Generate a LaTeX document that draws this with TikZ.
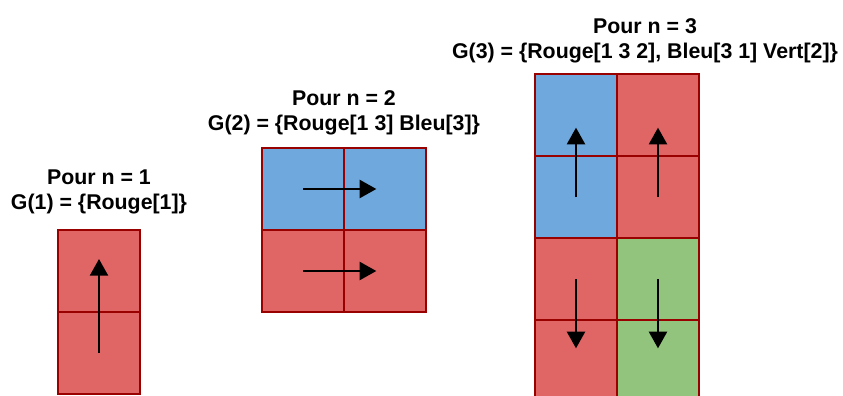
\documentclass[tikz,border=0pt]{standalone}
\usepackage{amsmath,amssymb,xcolor,tikz}
\usepackage{fontspec}
\setmainfont{Liberation Sans}
\usetikzlibrary{arrows.meta}

\definecolor{rouge}{RGB}{224,102,102}
\definecolor{bleu}{RGB}{111,168,220}
\definecolor{vert}{RGB}{147,196,125}
\definecolor{bord}{RGB}{153,0,0}

\tikzset{
  cell/.style={draw=bord, line width=1.5pt, minimum width=61.5pt, minimum height=61.5pt, inner sep=0pt, outer sep=0pt},
  fleche/.style={line width=1.7pt, -{Triangle[length=12.5pt,width=13.5pt]}},
  titre/.style={align=center, inner sep=0.75pt, font=\fontsize{16}{18.75}\selectfont\bfseries}
}

\begin{document}
\begin{tikzpicture}[x=0.75pt,y=0.75pt,yscale=-1,xscale=1]

\useasboundingbox (0,0) rectangle (843,396);

% n = 1
\node [titre] (lbl1) at (99,191.5) {Pour n = 1\\G(1) = \{Rouge[1]\}};
\node [cell, fill=rouge] (a1) at (99,271) {};
\node [cell, fill=rouge] (a2) at (99,353) {};
\draw [fleche] (a2.center) -- ([yshift=-9pt]a1.center);

% n = 2
\node [titre] (lbl2) at (344,113) {Pour n = 2\\G(2) = \{Rouge[1 3] Bleu[3]\}};
\node [cell, fill=bleu] (b11) at (303,189) {};
\node [cell, fill=bleu] (b12) at (385,189) {};
\node [cell, fill=rouge] (b21) at (303,271) {};
\node [cell, fill=rouge] (b22) at (385,271) {};
\draw [fleche] (b11.center) -- ([xshift=-6.5pt]b12.center);
\draw [fleche] (b21.center) -- ([xshift=-6.5pt]b22.center);

% n = 3
\node [titre] (lbl3) at (645,40.5) {Pour n = 3\\G(3) = \{Rouge[1 3 2], Bleu[3 1] Vert[2]\}};
\node [cell, fill=bleu] (c11) at (576,115) {};
\node [cell, fill=rouge] (c12) at (658,115) {};
\node [cell, fill=bleu] (c21) at (576,197) {};
\node [cell, fill=rouge] (c22) at (658,197) {};
\node [cell, fill=rouge] (c31) at (576,279) {};
\node [cell, fill=vert] (c32) at (658,279) {};
\node [cell, fill=rouge] (c41) at (576,361) {};
\node [cell, fill=vert] (c42) at (658,361) {};
\draw [fleche] (c21.center) -- ([yshift=9.5pt]c11.center);
\draw [fleche] (c22.center) -- ([yshift=9.5pt]c12.center);
\draw [fleche] (c31.center) -- ([yshift=-9.5pt]c41.center);
\draw [fleche] (c32.center) -- ([yshift=-9.5pt]c42.center);

\end{tikzpicture}
\end{document}
